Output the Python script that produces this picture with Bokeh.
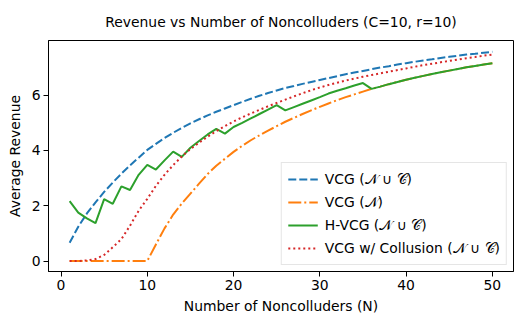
from bokeh.plotting import figure
from bokeh.models import Range1d, FixedTicker, Legend, LegendItem, Title
from bokeh.embed import file_html
from bokeh.resources import INLINE

N = list(range(1, 51))

vcg_all = [0.66, 1.24, 1.72, 2.12, 2.50, 2.84, 3.16, 3.46, 3.74, 4.02,
           4.24, 4.45, 4.64, 4.82, 4.98, 5.13, 5.27, 5.40, 5.52, 5.64,
           5.76, 5.87, 5.98, 6.08, 6.17, 6.26, 6.33, 6.41, 6.48, 6.55,
           6.62, 6.69, 6.76, 6.82, 6.88, 6.94, 7.00, 7.05, 7.11, 7.16,
           7.21, 7.26, 7.30, 7.35, 7.39, 7.43, 7.47, 7.50, 7.54, 7.57]

vcg_n = [0, 0, 0, 0, 0, 0, 0, 0, 0, 0,
         0.60, 1.18, 1.68, 2.08, 2.44, 2.80, 3.15, 3.45, 3.70, 3.95,
         4.17, 4.37, 4.55, 4.72, 4.88, 5.04, 5.18, 5.32, 5.45, 5.58,
         5.70, 5.82, 5.93, 6.03, 6.13, 6.23, 6.31, 6.40, 6.48, 6.56,
         6.63, 6.70, 6.77, 6.83, 6.89, 6.95, 7.01, 7.06, 7.11, 7.16]

hvcg = [2.17, 1.75, 1.54, 1.37, 2.24, 2.07, 2.70, 2.57, 3.12, 3.48,
        3.31, 3.64, 3.96, 3.77, 4.10, 4.34, 4.58, 4.78, 4.61, 4.85,
        5.00, 5.16, 5.32, 5.48, 5.64, 5.45, 5.57, 5.69, 5.81, 5.93,
        6.06, 6.16, 6.25, 6.35, 6.44, 6.23, 6.31, 6.40, 6.48, 6.56,
        6.63, 6.70, 6.77, 6.83, 6.89, 6.95, 7.01, 7.06, 7.11, 7.16]

vcg_collusion = [0.00, 0.00, 0.02, 0.07, 0.22, 0.50, 0.79, 1.28, 1.82, 2.25,
                 2.72, 3.12, 3.47, 3.78, 4.05, 4.28, 4.50, 4.70, 4.88, 5.05,
                 5.20, 5.34, 5.47, 5.60, 5.72, 5.84, 5.96, 6.07, 6.18, 6.28,
                 6.37, 6.45, 6.53, 6.60, 6.67, 6.73, 6.79, 6.85, 6.91, 6.97,
                 7.03, 7.09, 7.14, 7.19, 7.24, 7.29, 7.34, 7.38, 7.43, 7.47]

x_ticks = [0, 10, 20, 30, 40, 50]
y_ticks = [0, 2, 4, 6]

labels = ["VCG (𝒩 ∪ 𝒞)", "VCG (𝒩)", "H-VCG (𝒩 ∪ 𝒞)", "VCG w/ Collusion (𝒩 ∪ 𝒞)"]

FONT = "DejaVu Sans"
FS = "13.9px"

p = figure(width=523, height=324, output_backend="svg", toolbar_location=None,
           x_range=Range1d(-1.45, 52.45), y_range=Range1d(-0.38, 7.98),
           min_border_left=48, min_border_right=10, min_border_top=40, min_border_bottom=53)

p.title.visible = False
t = Title(text="Revenue vs Number of Noncolluders (C=10, r=10)", align="center",
          text_font=FONT, text_font_size=FS, text_font_style="normal",
          text_color="black", offset=-15, standoff=22)
p.add_layout(t, "above")

p.xgrid.visible = False
p.ygrid.visible = False
p.outline_line_color = "black"
p.outline_line_width = 1
p.outline_line_alpha = 1

for ax in (p.xaxis[0], p.yaxis[0]):
    ax.axis_line_color = "black"
    ax.major_tick_line_color = "black"
    ax.major_tick_in = 0
    ax.major_tick_out = 5
    ax.minor_tick_line_color = None
    ax.major_label_text_font = FONT
    ax.major_label_text_font_size = FS
    ax.major_label_text_color = "black"
    ax.axis_label_text_font = FONT
    ax.axis_label_text_font_size = FS
    ax.axis_label_text_font_style = "normal"
    ax.axis_label_text_color = "black"

p.xaxis.ticker = FixedTicker(ticks=x_ticks)
p.yaxis.ticker = FixedTicker(ticks=y_ticks)
p.xaxis.axis_label = "Number of Noncolluders (N)"
p.yaxis.axis_label = "Average Revenue"
p.xaxis.major_label_standoff = 3
p.yaxis.major_label_standoff = 3
p.xaxis.axis_label_standoff = 5
p.yaxis.axis_label_standoff = 6

r1 = p.line(N, vcg_all, line_color="#1f77b4", line_width=2, line_dash="8 3")
r2 = p.line(N, vcg_n, line_color="#ff7f0e", line_width=2, line_dash="13 3 2 3")
r3 = p.line(N, hvcg, line_color="#2ca02c", line_width=2)
r4 = p.line(N, vcg_collusion, line_color="#d62728", line_width=2, line_dash="2 3")

legend = Legend(items=[LegendItem(label=l, renderers=[r]) for l, r in zip(labels, [r1, r2, r3, r4])],
                location="bottom_right")
legend.label_text_font = FONT
legend.label_text_font_size = FS
legend.label_text_color = "black"
legend.glyph_width = 30
legend.glyph_height = 20
legend.label_height = 20
legend.label_standoff = 7
legend.spacing = 3
legend.padding = 6
legend.margin = 6
legend.border_line_color = "#cccccc"
legend.border_line_width = 1
legend.background_fill_alpha = 0.8
p.add_layout(legend, "center")

open("out.html", "w").write(file_html(p, INLINE))
